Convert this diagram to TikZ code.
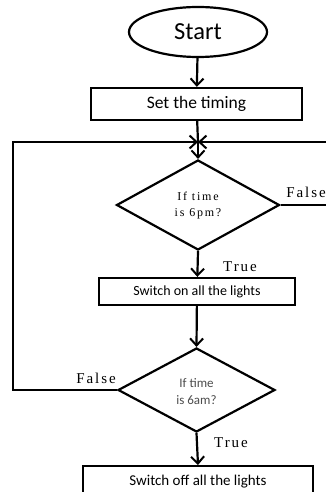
\documentclass[tikz,border=0pt]{standalone}
\usepackage{fontspec}
\setmainfont{Liberation Serif}
\newfontfamily\carfont{Carlito}
\usetikzlibrary{shapes.geometric,arrows.meta}
\begin{document}
\begin{tikzpicture}[x=1pt,y=-1pt,
  line width=2.2pt,
  arr/.style={-{Straight Barb[length=7pt,width=13pt,line width=2pt]}},
  proc/.style={draw,rectangle,inner sep=0pt},
  dec/.style={draw,diamond,aspect=1.8,inner sep=0pt},
  lbl/.style={font=\fontsize{15}{17}\selectfont\addfontfeatures{LetterSpace=13}}]
\useasboundingbox (0,0) rectangle (326,492);
\clip (0,0) rectangle (326,492);
\node[draw,ellipse,minimum width=138pt,minimum height=50pt,inner sep=0pt,font=\carfont\fontsize{24.5}{26}\selectfont] (start) at (198,32) {Start};
\node[proc,minimum width=211pt,minimum height=32pt,font=\carfont\fontsize{17.5}{20}\selectfont] (set) at (196.5,104) {Set the timing};
\coordinate (j) at (198,142);
\node[dec,minimum width=163pt,minimum height=90pt] (d1) at (198,205) {};
\node[font=\fontsize{12}{16}\selectfont\addfontfeatures{LetterSpace=15},align=center] (t1) at (198,206) {If time\\is 6pm?};
\node[proc,minimum width=196pt,minimum height=27pt,font=\carfont\fontsize{14}{16}\selectfont] (on) at (197,291.5) {Switch on all the lights};
\node[dec,minimum width=157pt,minimum height=84pt] (d2) at (196.5,390) {};
\node[font=\carfont\fontsize{13}{17}\selectfont,text=black!70,align=center] (t2) at (196.5,392) {If time\\is 6am?};
\node[proc,minimum width=230pt,minimum height=40pt,anchor=north] (off) at (198,465) {};
\node[font=\carfont\fontsize{15}{17}\selectfont] (offt) at (198,482) {Switch off all the lights};
\coordinate (lb) at (13,390);
\coordinate (lt) at (13,142);
\coordinate (rb) at (330,205);
\coordinate (rt) at (330,142);
\draw[arr] (start) -- (set);
\draw (set) -- (j);
\draw[arr] (d2.west) -- (lb) -- (lt) -- (j);
\draw (d1.east) -- (rb);
\draw[arr] (rt) -- (j);
\draw[arr] (j) -- (d1.north);
\draw[arr] (d1.south) -- (on);
\draw[arr] (on) -- (d2.north);
\draw[arr] (d2.south) -- (off.north);
\node[lbl] (f1) at (306,192) {False};
\node[lbl] (tr1) at (240,267) {True};
\node[lbl] (f2) at (96,378) {False};
\node[lbl] (tr2) at (231,443) {True};
\end{tikzpicture}
\end{document}
